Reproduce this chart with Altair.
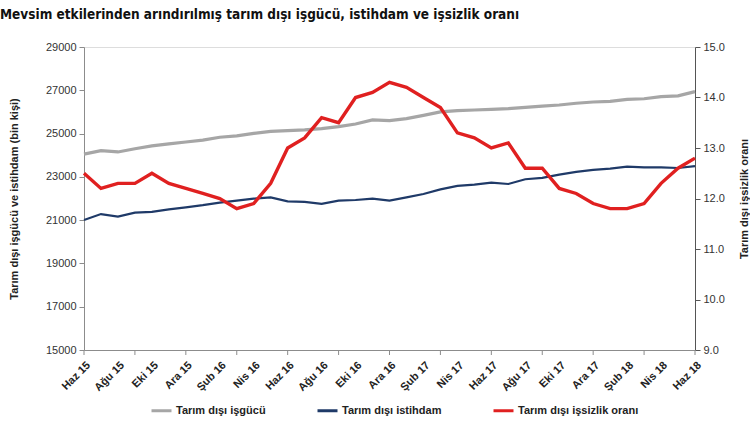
import json
import altair as alt
import pandas as pd

months = ["Haz 15", "Tem 15", "Ağu 15", "Eyl 15", "Eki 15", "Kas 15", "Ara 15",
          "Oca 16", "Şub 16", "Mar 16", "Nis 16", "May 16", "Haz 16", "Tem 16",
          "Ağu 16", "Eyl 16", "Eki 16", "Kas 16", "Ara 16", "Oca 17", "Şub 17",
          "Mar 17", "Nis 17", "May 17", "Haz 17", "Tem 17", "Ağu 17", "Eyl 17",
          "Eki 17", "Kas 17", "Ara 17", "Oca 18", "Şub 18", "Mar 18", "Nis 18",
          "May 18", "Haz 18"]

isgucu = [24050, 24210, 24150, 24300, 24430, 24520, 24610, 24700, 24830, 24890,
          25010, 25100, 25140, 25170, 25230, 25320, 25440, 25630, 25600, 25690,
          25840, 26000, 26060, 26090, 26120, 26150, 26210, 26270, 26320, 26400,
          26460, 26490, 26580, 26610, 26710, 26740, 26940]

istihdam = [21010, 21280, 21160, 21350, 21380, 21500, 21590, 21690, 21810, 21900,
            21990, 22050, 21870, 21840, 21750, 21900, 21930, 21990, 21900, 22050,
            22210, 22420, 22580, 22640, 22730, 22670, 22890, 22950, 23100, 23230,
            23320, 23380, 23470, 23440, 23440, 23410, 23500]

issizlik = [12.5, 12.2, 12.3, 12.3, 12.5, 12.3, 12.2, 12.1, 12.0, 11.8, 11.9, 12.3,
            13.0, 13.2, 13.6, 13.5, 14.0, 14.1, 14.3, 14.2, 14.0, 13.8, 13.3, 13.2,
            13.0, 13.1, 12.6, 12.6, 12.2, 12.1, 11.9, 11.8, 11.8, 11.9, 12.3, 12.6,
            12.8]

series_names = ["Tarım dışı işgücü", "Tarım dışı istihdam", "Tarım dışı işsizlik oranı"]
series_colors = ["#A6A6A6", "#1F3A68", "#E02020"]

left_ticks = [15000, 17000, 19000, 21000, 23000, 25000, 27000, 29000]
right_ticks = [9.0, 10.0, 11.0, 12.0, 13.0, 14.0, 15.0]
x_label_idx = list(range(0, 37, 2))
x_tick_idx = list(range(0, 37, 3))

rows = []
for i, m in enumerate(months):
    rows.append({"i": i, "ay": m, "seri": series_names[0], "deger": isgucu[i]})
    rows.append({"i": i, "ay": m, "seri": series_names[1], "deger": istihdam[i]})
    rows.append({"i": i, "ay": m, "seri": series_names[2], "deger": issizlik[i]})
df = pd.DataFrame(rows)

FONT = "Liberation Sans"
label_expr = json.dumps(months, ensure_ascii=False) + "[datum.value]"

x_scale = alt.Scale(domain=[0, 36], nice=False, zero=False)
x_axis = alt.Axis(values=x_label_idx, labelExpr=label_expr, labelAngle=-45,
                  labelAlign="right", labelBaseline="top", grid=False,
                  title=None, domainColor="#8C8C8C", ticks=False,
                  labelFontWeight="bold", labelFontSize=11, labelColor="#222222",
                  labelPadding=9, labelOverlap=False, labelFont=FONT)
x_enc = alt.X("i:Q", scale=x_scale, axis=x_axis)

color_enc = alt.Color("seri:N",
                      scale=alt.Scale(domain=series_names, range=series_colors),
                      legend=alt.Legend(title=None, orient="none", direction="horizontal",
                                        legendX=66, legendY=352, symbolType="stroke",
                                        symbolSize=400, symbolStrokeWidth=3,
                                        labelFontSize=11, labelFontWeight="bold",
                                        labelColor="#222222", columnPadding=45,
                                        labelOffset=3, labelFont=FONT))

base = alt.Chart(df)

left = base.transform_filter(
    alt.FieldOneOfPredicate(field="seri", oneOf=series_names[:2])
).mark_line().encode(
    x=x_enc,
    y=alt.Y("deger:Q",
            scale=alt.Scale(domain=[15000, 29000], nice=False, zero=False),
            axis=alt.Axis(values=left_ticks, format="d", grid=False, orient="left",
                          title="Tarım dışı işgücü ve istihdam (bin kişi)",
                          titleFontSize=11, titleFontWeight="bold", titleColor="#222222",
                          titlePadding=26, labelFontSize=11, labelColor="#333333",
                          domainColor="#8C8C8C", tickColor="#8C8C8C", tickSize=5,
                          labelPadding=3, labelFont=FONT, titleFont=FONT)),
    color=color_enc,
    strokeWidth=alt.StrokeWidth("seri:N",
                                scale=alt.Scale(domain=series_names[:2], range=[3.2, 2.2]),
                                legend=None),
    detail="seri:N",
)

right = base.transform_filter(
    alt.FieldEqualPredicate(field="seri", equal=series_names[2])
).mark_line(strokeWidth=3.4).encode(
    x=x_enc,
    y=alt.Y("deger:Q",
            scale=alt.Scale(domain=[9, 15], nice=False, zero=False),
            axis=alt.Axis(values=right_ticks, format=".1f", grid=False, orient="right",
                          title="Tarım dışı işsizlik oranı", titleAngle=270,
                          titleFontSize=11, titleFontWeight="bold", titleColor="#222222",
                          titlePadding=25, labelFontSize=11, labelColor="#333333",
                          domainColor="#555555", tickColor="#555555", tickSize=5,
                          labelPadding=3, labelFont=FONT, titleFont=FONT)),
    color=color_enc,
)

ticks_df = pd.DataFrame({"i": x_tick_idx})
xticks = alt.Chart(ticks_df).mark_rule(color="#8C8C8C", strokeWidth=1).encode(
    x=x_enc,
    y=alt.value(303),
    y2=alt.value(308),
)

chart = alt.layer(left, right, xticks).resolve_scale(y="independent").properties(
    width=611,
    height=303,
    autosize=alt.AutoSizeParams(type="none"),
    padding={"left": 84, "top": 47, "right": 55, "bottom": 72},
    title=alt.TitleParams(
        "Mevsim etkilerinden arındırılmış tarım dışı işgücü, istihdam ve işsizlik oranı",
        anchor="start", frame="group", dx=-84, offset=20, fontSize=13.5,
        fontWeight="bold", font="DejaVu Sans Condensed, Liberation Sans",
        color="#111111"),
).configure_view(stroke=None).configure(font=FONT)

chart.save("out.html", embed_options={"renderer": "svg", "actions": False})
